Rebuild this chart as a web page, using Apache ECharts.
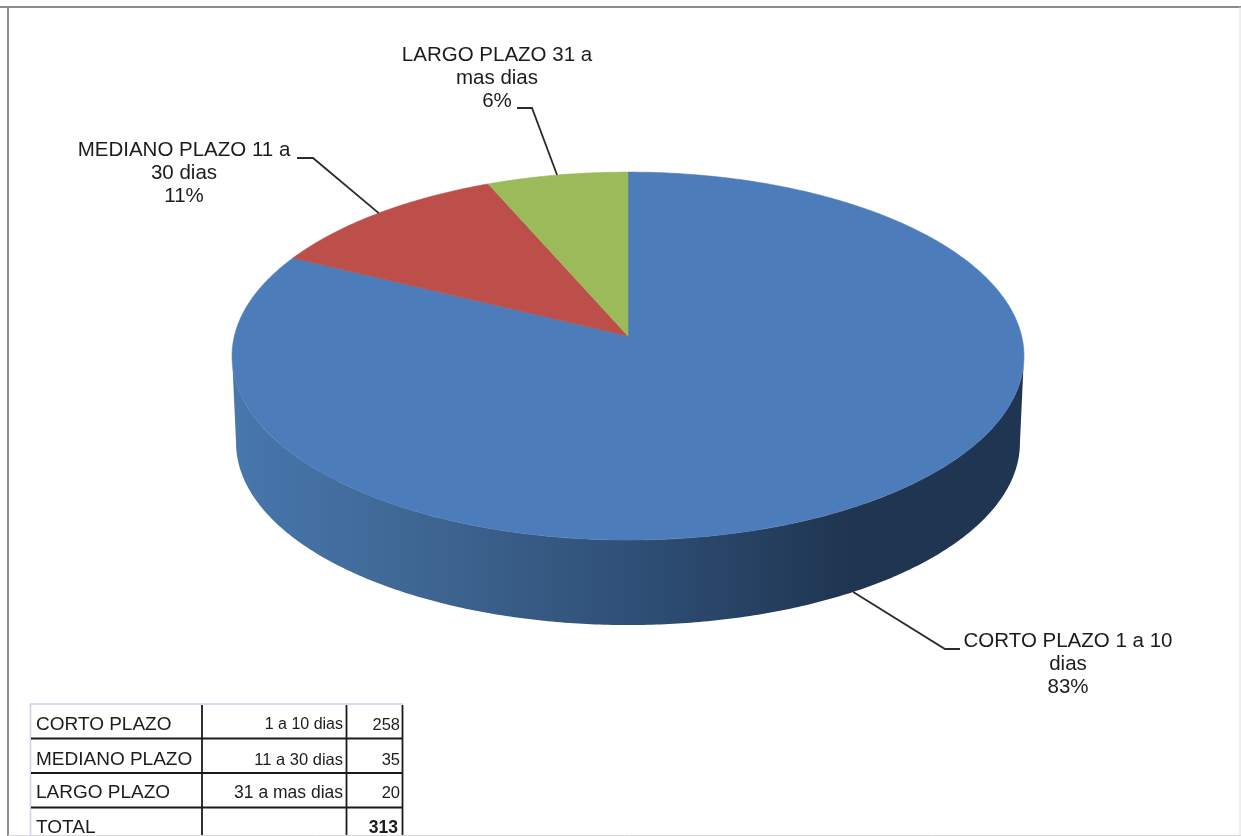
<!DOCTYPE html>
<html>
<head>
<meta charset="utf-8">
<style>html,body{margin:0;padding:0;background:#fff}#c{width:1241px;height:836px;filter:blur(0.45px)}</style>
<script src="https://cdn.jsdelivr.net/npm/echarts@6/dist/echarts.min.js"></script>
</head>
<body>
<div id="c"></div>
<script>
var categories = ["CORTO PLAZO", "MEDIANO PLAZO", "LARGO PLAZO"];
var ranges = ["1 a 10 dias", "11 a 30 dias", "31 a mas dias"];
var values = [258, 35, 20];
var totalValue = 313;
var percentLabels = ["83%", "11%", "6%"];
var sliceLabelLines = [["CORTO PLAZO 1 a 10", "dias"], ["MEDIANO PLAZO 11 a", "30 dias"], ["LARGO PLAZO 31 a", "mas dias"]];
var colors = ["#4c7cb9", "#bd4f4b", "#9bba59"];

var FONT = '"Liberation Sans", Arial, sans-serif';
var TEXT = "#1c1c1c";

/* perspective projection of the pie disc */
var topDisc = {cx: 628, cy: 336, a: 393.6, b: 181.8, k: 0.109};
var baseDisc = {cx: 628, cy: 423, a: 389.6, b: 180, k: 0.109};
function proj(d, t) {
  var u = Math.sin(t), v = Math.cos(t), w = 1 + d.k * v;
  return [d.cx + d.a * u / w, d.cy - d.b * v / w];
}
function arc(d, t0, t1) {
  var n = Math.max(2, Math.ceil(Math.abs(t1 - t0) / 0.01)), p = [];
  for (var i = 0; i <= n; i++) p.push(proj(d, t0 + (t1 - t0) * i / n));
  return p;
}
var sum = values.reduce(function (a, b) { return a + b; }, 0);
var starts = [], acc = 0;
values.forEach(function (v) { starts.push(acc / sum * 2 * Math.PI); acc += v; });

/* where each leader line bends after leaving the pie */
var leaderBends = [[[945, 649], [960, 649]], [[313, 158], [297, 158]], [[532, 108], [517, 108]]];
var labelPos = [[1068, 641], [184, 150], [497, 55]];
var LINE = 23;
var sideFill = {type: "linear", x: 0, y: 0, x2: 1, y2: 0, colorStops: [
  {offset: 0, color: "#4777ae"}, {offset: 0.25, color: "#3e6591"},
  {offset: 0.5, color: "#2f5077"}, {offset: 0.78, color: "#1f3551"}, {offset: 1, color: "#1f3551"}
]};
var edge = Math.acos(-topDisc.k);

function renderSlice(params, api) {
  var i = params.dataIndex;
  var t0 = starts[i], t1 = t0 + api.value(0) / sum * 2 * Math.PI;
  var tm = (t0 + t1) / 2;
  var kids = [];
  var s0 = Math.max(t0, edge), s1 = Math.min(t1, 2 * Math.PI - edge);
  if (s1 > s0) {
    kids.push({type: "polygon", z2: 1, shape: {points: arc(topDisc, s0, s1).concat(arc(baseDisc, s1, s0))},
      style: {fill: sideFill}});
  }
  var wedge = [[topDisc.cx, topDisc.cy]].concat(arc(topDisc, t0, t1));
  kids.push({type: "polygon", z2: 2, shape: {points: wedge},
    style: {fill: colors[i], stroke: colors[i], lineWidth: 0.6}});
  var front = Math.cos(tm) < -0.1;
  var anchor = proj(front ? baseDisc : topDisc, tm);
  kids.push({type: "polyline", z2: 3, shape: {points: [anchor].concat(leaderBends[i])},
    style: {fill: "none", stroke: "#2b2b2b", lineWidth: 1.8}});
  sliceLabelLines[i].concat(percentLabels[i]).forEach(function (s, j) {
    kids.push({type: "text", z2: 4, x: labelPos[i][0], y: labelPos[i][1] + j * LINE,
      style: {text: s, font: "20.5px " + FONT, fill: TEXT, textAlign: "center", textVerticalAlign: "middle"}});
  });
  return {type: "group", children: kids};
}

/* frame and table */
var gfx = [];
function hline(x0, x1, y, color, w) {
  gfx.push({type: "line", shape: {x1: x0, y1: y, x2: x1, y2: y}, style: {stroke: color, lineWidth: w}, silent: true});
}
function vline(x, y0, y1, color, w) {
  gfx.push({type: "line", shape: {x1: x, y1: y0, x2: x, y2: y1}, style: {stroke: color, lineWidth: w}, silent: true});
}
function label(s, x, y, align, size, weight) {
  gfx.push({type: "text", x: x, y: y, silent: true, z: 5, style: {text: s, font: (weight || "normal") + " " + size + "px " + FONT,
    fill: TEXT, textAlign: align, textVerticalAlign: "middle"}});
}
hline(0, 1241, 7, "#8c8c8c", 2);
vline(8, 7, 836, "#8c8c8c", 2);
vline(1240, 7, 836, "#dedede", 1);
hline(8, 1241, 835.5, "#d8d8d8", 1);
hline(30, 403, 704, "#c9d2e8", 1.5);
vline(30.5, 704, 836, "#c9d2e8", 1.5);
[738.5, 773, 807.5].forEach(function (y) { hline(31, 403, y, "#1a1a1a", 1.8); });
[202, 346.5, 402.5].forEach(function (x) { vline(x, 705, 835, "#1a1a1a", 1.8); });
var rowY = [725, 760, 793, 828];
var rangeSizes = [16, 16.5, 17.5];
categories.forEach(function (c, i) {
  label(c, 36, rowY[i], "left", 19);
  label(ranges[i], 343, rowY[i], "right", rangeSizes[i]);
  label(String(values[i]), 400, rowY[i], "right", 16.5);
});
label("TOTAL", 36, rowY[3], "left", 19);
label(String(totalValue), 398, rowY[3], "right", 17.5, "bold");

var chart = echarts.init(document.getElementById("c"), null, {renderer: "canvas"});
chart.setOption({
  animation: false,
  backgroundColor: "#fff",
  graphic: gfx,
  series: [{
    type: "custom",
    coordinateSystem: "none",
    silent: true,
    clip: false,
    data: values,
    renderItem: renderSlice
  }]
});
</script>
</body>
</html>
